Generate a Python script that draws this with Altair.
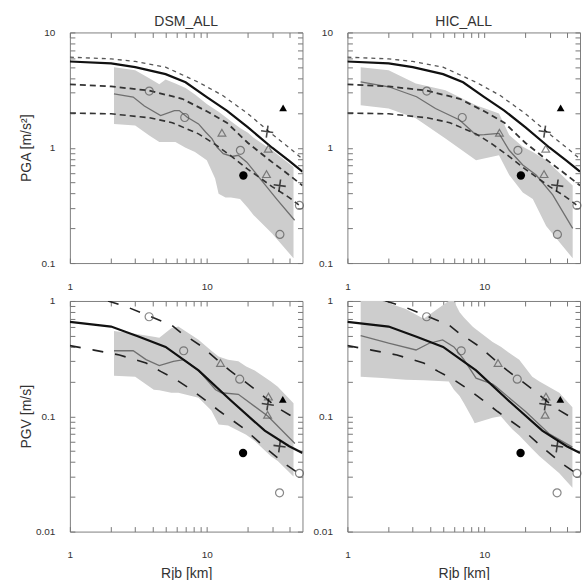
import altair as alt
import pandas as pd

FONT = "Liberation Sans"
TXT = "#333333"
BAND = "#cdcdcd"

# ---------------- PGA model curves (identical in both PGA panels)
pga_solid_x = [1, 2, 3, 5, 7, 10, 14, 20, 30, 40, 50]
pga_solid_y = [5.6, 5.4, 5.0, 4.35, 3.7, 2.75, 2.1, 1.5, 1.0, 0.77, 0.62]
pga_up_x = [1, 2, 3, 5, 8.7, 13, 20, 30, 40, 50]
pga_up_y = [6.1, 5.9, 5.6, 5.0, 3.7, 2.85, 1.97, 1.31, 1.0, 0.8]
pga_mid_x = [1, 2, 3.8, 6.6, 10, 14, 20, 30, 40, 50]
pga_mid_y = [3.55, 3.4, 3.13, 2.66, 2.07, 1.65, 1.1, 0.75, 0.58, 0.47]
pga_low_x = [1, 2, 3.8, 5.6, 8.7, 11.5, 15, 20, 30, 40, 47]
pga_low_y = [2.0, 1.97, 1.82, 1.65, 1.32, 1.07, 0.85, 0.65, 0.46, 0.37, 0.32]

# ---------------- PGV model curves (identical in both PGV panels)
pgv_solid_x = [1, 2, 3.2, 5, 8.7, 15, 26.5, 40, 50]
pgv_solid_y = [0.66, 0.6, 0.49, 0.4, 0.25, 0.137, 0.075, 0.055, 0.048]
pgv_up_x = [1.9, 2.6, 3.8, 5.5, 6.5, 9, 14.7, 22, 33, 47]
pgv_up_y = [1.0, 0.89, 0.74, 0.62, 0.53, 0.41, 0.25, 0.175, 0.118, 0.092]
pgv_low_x = [1, 1.5, 2.3, 3.6, 4.6, 5.9, 8, 12.5, 18.5, 28, 38, 47]
pgv_low_y = [0.41, 0.375, 0.34, 0.29, 0.245, 0.21, 0.165, 0.11, 0.079, 0.051, 0.038, 0.032]

# ---------------- observed medians (thin grey) and spread bands
dsm_pga_thin_x = [2.1, 2.9, 3.5, 4.6, 5.8, 6.3, 7.2, 8.7, 9.8, 10.9, 11.9, 13.2, 15.3, 17, 19.6, 25.8, 32.3, 43.8]
dsm_pga_thin_y = [2.93, 2.75, 2.3, 1.9, 2.1, 2.1, 1.84, 1.61, 1.37, 1.2, 1.01, 0.89, 0.84, 0.86, 0.75, 0.50, 0.36, 0.235]
dsm_pga_band_x = [2.1, 3.0, 3.8, 4.5, 5.0, 5.9, 7, 8.2, 10, 11.5, 12.2, 13.7, 15, 17.5, 20, 22, 30, 43]
dsm_pga_band_hi = [5.0, 4.7, 4.0, 3.55, 3.9, 3.6, 3.3, 2.9, 2.4, 2.15, 2.05, 1.85, 1.7, 1.48, 1.35, 1.22, 0.95, 0.68]
dsm_pga_band_lo = [1.61, 1.56, 1.28, 1.12, 1.12, 1.12, 1.0, 0.92, 0.78, 0.54, 0.40, 0.37, 0.37, 0.36, 0.30, 0.26, 0.18, 0.11]

hic_pga_thin_x = [1.25, 2.0, 3.2, 4.4, 6.6, 8.7, 10, 12.8, 15.2, 19.1, 23.9, 31.6, 44.2]
hic_pga_thin_y = [3.73, 3.38, 2.77, 2.19, 1.74, 1.29, 1.3, 1.33, 0.95, 0.71, 0.58, 0.39, 0.20]
hic_pga_band_x = [1.25, 2.0, 3.16, 5.2, 8.7, 12.8, 15.2, 19.1, 22.6, 28.3, 44.2]
hic_pga_band_hi = [5.0, 4.7, 3.6, 3.16, 2.34, 1.98, 1.29, 1.02, 0.92, 0.78, 0.47]
hic_pga_band_lo = [2.34, 2.19, 1.80, 1.2, 0.78, 0.86, 0.58, 0.41, 0.36, 0.21, 0.11]

dsm_pgv_thin_x = [2.1, 2.9, 3.6, 4.5, 5.7, 6.8, 8.7, 10.9, 11.6, 12.8, 17, 28, 44]
dsm_pgv_thin_y = [0.37, 0.37, 0.31, 0.275, 0.30, 0.31, 0.25, 0.185, 0.17, 0.16, 0.155, 0.10, 0.058]
dsm_pgv_band_x = [2.1, 3.0, 4.1, 4.5, 5.5, 6.2, 8.7, 10.8, 12.2, 14.3, 17, 19.4, 22.4, 29.4, 33, 43]
dsm_pgv_band_hi = [0.55, 0.52, 0.49, 0.48, 0.58, 0.60, 0.46, 0.37, 0.33, 0.31, 0.30, 0.27, 0.25, 0.20, 0.18, 0.13]
dsm_pgv_band_lo = [0.225, 0.22, 0.17, 0.168, 0.16, 0.16, 0.145, 0.112, 0.085, 0.083, 0.075, 0.069, 0.061, 0.045, 0.041, 0.03]

hic_pgv_thin_x = [1.25, 2.0, 3.17, 3.96, 4.96, 6.0, 7.1, 8.7, 11.5, 12.2, 20, 30, 44]
hic_pgv_thin_y = [0.50, 0.43, 0.376, 0.43, 0.46, 0.40, 0.31, 0.214, 0.19, 0.18, 0.11, 0.07, 0.054]
hic_pgv_band_x = [1.25, 1.8, 2.67, 3.6, 5.5, 6.0, 6.6, 7.1, 8.2, 8.5, 11.5, 13.2, 16, 18, 22.4, 25.3, 35.3, 44]
hic_pgv_band_hi = [1.0, 1.0, 0.85, 0.7, 1.0, 1.0, 0.8, 0.72, 0.6, 0.58, 0.44, 0.40, 0.34, 0.31, 0.22, 0.2, 0.16, 0.12]
hic_pgv_band_lo = [0.22, 0.215, 0.207, 0.205, 0.20, 0.17, 0.15, 0.13, 0.095, 0.087, 0.097, 0.10, 0.077, 0.068, 0.052, 0.045, 0.032, 0.024]

# ---------------- station records (same in DSM and HIC panels)
pga_ocirc_x = [3.8, 6.9, 17.6, 34.2, 47.5]
pga_ocirc_y = [3.1, 1.83, 0.95, 0.177, 0.316]
pga_otri_x = [12.9, 28.1, 27.3]
pga_otri_y = [1.35, 0.98, 0.59]
pga_fcirc_x = [18.5]
pga_fcirc_y = [0.575]
pga_ftri_x = [36.1]
pga_ftri_y = [2.22]
pga_plus_x = [27.6, 34.1]
pga_plus_y = [1.38, 0.47]

pgv_ocirc_x = [3.79, 6.78, 17.4, 34.0, 47.5]
pgv_ocirc_y = [0.73, 0.37, 0.21, 0.0217, 0.032]
pgv_otri_x = [12.6, 28.2, 27.8]
pgv_otri_y = [0.29, 0.148, 0.103]
pgv_fcirc_x = [18.4]
pgv_fcirc_y = [0.048]
pgv_ftri_x = [35.9]
pgv_ftri_y = [0.14]
pgv_plus_x = [27.9, 34.0]
pgv_plus_y = [0.127, 0.055]

x_ticks = [1, 2, 3, 4, 5, 6, 7, 8, 9, 10, 20, 30, 40]
pga_ticks = [0.1, 0.2, 0.3, 0.4, 0.5, 0.6, 0.7, 0.8, 0.9, 1, 2, 3, 4, 5, 6, 7, 8, 9, 10]
pgv_ticks = [0.01, 0.02, 0.03, 0.04, 0.05, 0.06, 0.07, 0.08, 0.09, 0.1, 0.2, 0.3, 0.4, 0.5, 0.6, 0.7, 0.8, 0.9, 1]

W, H = 233, 231
XLAB = "datum.value == 1 ? '1' : datum.value == 10 ? '10' : ''"
YLAB = ("abs(datum.value - 10) < 1e-9 ? '10' : abs(datum.value - 1) < 1e-9 ? '1' : "
        "abs(datum.value - 0.1) < 1e-9 ? '0.1' : abs(datum.value - 0.01) < 1e-9 ? '0.01' : ''")
PLUS = "M-1,0L1,0M0,-1L0,1"


def xy(xs, ys):
    return pd.DataFrame({"x": xs, "y": ys})


def panel(qty, band_x, band_hi, band_lo, thin_x, thin_y, title, ytitle, xtitle):
    ydom = [0.1, 10] if qty == "PGA" else [0.01, 1]
    yt = pga_ticks if qty == "PGA" else pgv_ticks
    xs = alt.Scale(type="log", domain=[1, 50], nice=False)
    ys = alt.Scale(type="log", domain=ydom, nice=False)
    X = alt.X("x:Q", scale=xs, axis=None)
    Y = alt.Y("y:Q", scale=ys, axis=None)
    layers = []
    band = pd.DataFrame({"x": band_x, "hi": band_hi, "lo": band_lo})
    layers.append(alt.Chart(band).mark_area(color=BAND, clip=True).encode(
        x=X, y=alt.Y("hi:Q", scale=ys, axis=None), y2="lo:Q"))
    layers.append(alt.Chart(xy(thin_x, thin_y)).mark_line(color="#6f6f6f", strokeWidth=1.3, clip=True)
                  .encode(x=X, y=Y))
    if qty == "PGA":
        layers.append(alt.Chart(xy(pga_up_x, pga_up_y)).mark_line(
            color="#555555", strokeWidth=1.3, strokeDash=[4, 4], clip=True).encode(x=X, y=Y))
        layers.append(alt.Chart(xy(pga_mid_x, pga_mid_y)).mark_line(
            color="#333333", strokeWidth=1.8, strokeDash=[6, 4], clip=True).encode(x=X, y=Y))
        layers.append(alt.Chart(xy(pga_low_x, pga_low_y)).mark_line(
            color="#333333", strokeWidth=1.6, strokeDash=[6, 4], clip=True).encode(x=X, y=Y))
        layers.append(alt.Chart(xy(pga_solid_x, pga_solid_y)).mark_line(
            color="#111111", strokeWidth=2.2, clip=True).encode(x=X, y=Y))
        pts = [(pga_ocirc_x, pga_ocirc_y), (pga_otri_x, pga_otri_y), (pga_fcirc_x, pga_fcirc_y),
               (pga_ftri_x, pga_ftri_y), (pga_plus_x, pga_plus_y)]
    else:
        layers.append(alt.Chart(xy(pgv_up_x, pgv_up_y)).mark_line(
            color="#222222", strokeWidth=1.6, strokeDash=[11, 12], clip=True).encode(x=X, y=Y))
        layers.append(alt.Chart(xy(pgv_low_x, pgv_low_y)).mark_line(
            color="#222222", strokeWidth=1.6, strokeDash=[11, 12], clip=True).encode(x=X, y=Y))
        layers.append(alt.Chart(xy(pgv_solid_x, pgv_solid_y)).mark_line(
            color="#111111", strokeWidth=2.2, clip=True).encode(x=X, y=Y))
        pts = [(pgv_ocirc_x, pgv_ocirc_y), (pgv_otri_x, pgv_otri_y), (pgv_fcirc_x, pgv_fcirc_y),
               (pgv_ftri_x, pgv_ftri_y), (pgv_plus_x, pgv_plus_y)]
    styles = [
        dict(shape="circle", filled=False, size=64, color="#555555", strokeWidth=1.2),
        dict(shape="triangle-up", filled=False, size=60, color="#555555", strokeWidth=1.2),
        dict(shape="circle", filled=True, size=70, color="#000000", opacity=1),
        dict(shape="triangle-up", filled=True, size=60, color="#000000", opacity=1),
        dict(shape=PLUS, filled=False, size=150, color="#000000", strokeWidth=1.6, angle=8),
    ]
    for (px, py), st in zip(pts, styles):
        layers.append(alt.Chart(xy(px, py)).mark_point(**st).encode(x=X, y=Y))

    dummy = xy([1, 50], ydom)
    ax_common = dict(offset=-5, tickSize=5, tickColor="#777777", domain=False, grid=False,
                     labelFont=FONT, labelFontSize=10, labelColor=TXT,
                     titleFont=FONT, titleFontSize=14, titleColor=TXT, titleFontWeight="normal")
    xaxis = alt.Axis(orient="bottom", values=x_ticks, labelExpr=XLAB, labelPadding=18,
                     labelFlush=False, labelOverlap=False,
                     title=xtitle if xtitle else None, titleY=51, titleBaseline="alphabetic",
                     **ax_common)
    yaxis = alt.Axis(orient="left", values=yt, labelExpr=YLAB, labelPadding=15,
                     labelFlush=False, labelOverlap=False,
                     title=ytitle if ytitle else None, titleX=-41, titleBaseline="bottom",
                     **ax_common)
    layers.append(alt.Chart(dummy).mark_point(opacity=0).encode(
        x=alt.X("x:Q", scale=xs, axis=xaxis), y=alt.Y("y:Q", scale=ys, axis=yaxis)))
    ax_mirror = dict(offset=-5, tickSize=5, tickColor="#777777", domain=False, grid=False,
                     labels=False, title=None)
    layers.append(alt.Chart(dummy).mark_point(opacity=0).encode(
        x=alt.X("x:Q", scale=xs, axis=alt.Axis(orient="top", values=x_ticks, **ax_mirror)),
        y=alt.Y("y:Q", scale=ys, axis=alt.Axis(orient="right", values=yt, **ax_mirror))))

    ch = alt.layer(*layers).resolve_axis(x="independent", y="independent")
    props = dict(width=W, height=H)
    if title:
        props["title"] = alt.TitleParams(title, font=FONT, fontSize=14, fontWeight="normal",
                                         color=TXT, offset=-2)
    return ch.properties(**props)


p1 = panel("PGA", dsm_pga_band_x, dsm_pga_band_hi, dsm_pga_band_lo, dsm_pga_thin_x, dsm_pga_thin_y,
           "DSM_ALL", "PGA [m/s²]", None)
p2 = panel("PGA", hic_pga_band_x, hic_pga_band_hi, hic_pga_band_lo, hic_pga_thin_x, hic_pga_thin_y,
           "HIC_ALL", None, None)
p3 = panel("PGV", dsm_pgv_band_x, dsm_pgv_band_hi, dsm_pgv_band_lo, dsm_pgv_thin_x, dsm_pgv_thin_y,
           None, "PGV [m/s]", "Rjb [km]")
p4 = panel("PGV", hic_pgv_band_x, hic_pgv_band_hi, hic_pgv_band_lo, hic_pgv_thin_x, hic_pgv_thin_y,
           None, None, "Rjb [km]")

chart = alt.concat(p1, p2, p3, p4, columns=2,
                   spacing=alt.RowColnumber(row=38, column=45), bounds="flush").properties(
    padding={"left": 19, "top": 14, "right": 0, "bottom": 0}
).configure_view(stroke="#808080", strokeWidth=1)

chart.save("out.html", embed_options={"renderer": "svg", "actions": False})
